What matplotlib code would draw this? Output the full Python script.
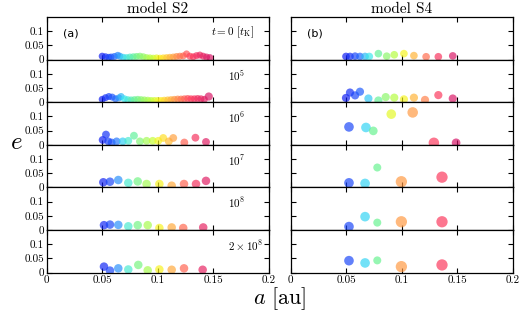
import matplotlib
matplotlib.use('Agg')
import numpy as np
import matplotlib.pyplot as plt
from matplotlib.colors import LinearSegmentedColormap
from matplotlib.ticker import FormatStrFormatter

plt.rcParams['font.family'] = ['cmr10', 'DejaVu Serif']
plt.rcParams['mathtext.fontset'] = 'cm'
plt.rcParams['axes.formatter.use_mathtext'] = True

# ---- data: semi-major axis a [au], eccentricity e, relative mass m, colour index c (initial a)
time_labels = [r'$t = 0\ [t_{\rm K}]$', r'$10^5$', r'$10^6$', r'$10^7$', r'$10^8$', r'$2 \times 10^8$']

s2_a = [
    [0.050, 0.053, 0.056, 0.058, 0.061, 0.064, 0.066, 0.069, 0.072, 0.075, 0.078, 0.081,
     0.084, 0.087, 0.090, 0.093, 0.096, 0.099, 0.102, 0.105, 0.108, 0.111, 0.114, 0.117,
     0.120, 0.123, 0.126, 0.129, 0.132, 0.135, 0.138, 0.141, 0.144, 0.147],
    [0.050, 0.053, 0.056, 0.059, 0.062, 0.065, 0.067, 0.070, 0.073, 0.076, 0.079, 0.082,
     0.085, 0.088, 0.091, 0.094, 0.097, 0.100, 0.103, 0.106, 0.109, 0.112, 0.115, 0.118,
     0.121, 0.124, 0.127, 0.130, 0.133, 0.136, 0.139, 0.142, 0.146],
    [0.0504, 0.0534, 0.0555, 0.0585, 0.063, 0.0685, 0.0735, 0.0786, 0.084, 0.090, 0.0955,
     0.1005, 0.105, 0.110, 0.114, 0.124, 0.134, 0.1435],
    [0.051, 0.057, 0.0645, 0.0735, 0.082, 0.090, 0.1015, 0.1126, 0.1237, 0.1345, 0.1435],
    [0.0516, 0.057, 0.0645, 0.0735, 0.082, 0.091, 0.1015, 0.1126, 0.123, 0.141],
    [0.0516, 0.057, 0.0645, 0.0735, 0.0825, 0.091, 0.1015, 0.1126, 0.1237, 0.1405],
]
s2_e = [
    [0.012, 0.010, 0.008, 0.009, 0.011, 0.015, 0.012, 0.008, 0.007, 0.009, 0.010, 0.011,
     0.012, 0.010, 0.007, 0.006, 0.005, 0.006, 0.005, 0.006, 0.007, 0.008, 0.009, 0.011,
     0.012, 0.013, 0.020, 0.012, 0.010, 0.014, 0.016, 0.012, 0.009, 0.007],
    [0.010, 0.016, 0.020, 0.018, 0.012, 0.015, 0.020, 0.012, 0.009, 0.008, 0.009, 0.010,
     0.009, 0.008, 0.007, 0.006, 0.006, 0.006, 0.006, 0.007, 0.008, 0.009, 0.010, 0.011,
     0.011, 0.012, 0.013, 0.012, 0.012, 0.013, 0.012, 0.010, 0.020],
    [0.017, 0.036, 0.012, 0.008, 0.012, 0.012, 0.014, 0.032, 0.012, 0.014, 0.014,
     0.014, 0.024, 0.012, 0.024, 0.008, 0.025, 0.010],
    [0.018, 0.020, 0.026, 0.016, 0.021, 0.012, 0.012, 0.006, 0.012, 0.012, 0.023],
    [0.017, 0.019, 0.018, 0.013, 0.017, 0.017, 0.007, 0.009, 0.007, 0.009],
    [0.021, 0.007, 0.015, 0.011, 0.027, 0.008, 0.011, 0.010, 0.015, 0.010],
]
s2_m = [
    [1.0] * 34,
    [1.0] * 32 + [1.6],
    [1.4] * 18,
    [1.8] * 11,
    [1.8] * 10,
    [1.8] * 10,
]

s4_a = [
    [0.0498, 0.0534, 0.058, 0.0624, 0.067, 0.0708, 0.079, 0.0865, 0.0933, 0.102, 0.111,
     0.122, 0.133, 0.146],
    [0.0498, 0.0534, 0.058, 0.0624, 0.070, 0.079, 0.0856, 0.0933, 0.102, 0.111, 0.121,
     0.133, 0.146],
    [0.0525, 0.0678, 0.0744, 0.0906, 0.1099, 0.129, 0.149],
    [0.0525, 0.067, 0.078, 0.0997, 0.1363],
    [0.0525, 0.067, 0.078, 0.0997, 0.1363],
    [0.0525, 0.067, 0.078, 0.0997, 0.1363],
]
s4_e = [
    [0.011, 0.011, 0.012, 0.011, 0.011, 0.011, 0.021, 0.012, 0.017, 0.021, 0.014,
     0.010, 0.010, 0.013],
    [0.015, 0.034, 0.024, 0.037, 0.013, 0.006, 0.018, 0.016, 0.010, 0.016, 0.008,
     0.025, 0.013],
    [0.063, 0.061, 0.049, 0.108, 0.114, 0.007, 0.007],
    [0.016, 0.014, 0.070, 0.020, 0.036],
    [0.012, 0.047, 0.026, 0.029, 0.029],
    [0.042, 0.034, 0.043, 0.021, 0.027],
]
s4_m = [
    [1.3] * 14,
    [1.6] * 13,
    [2.6, 2.6, 1.9, 2.6, 3.4, 3.4, 1.9],
    [2.6, 2.6, 1.5, 4.2, 4.2],
    [2.6, 2.6, 1.5, 4.2, 4.2],
    [2.6, 2.6, 1.5, 4.2, 4.2],
]
s4_c = [
    [0.050, 0.053, 0.057, 0.062, 0.067, 0.071, 0.079, 0.086, 0.093, 0.101, 0.111,
     0.122, 0.133, 0.146],
    [0.050, 0.053, 0.057, 0.060, 0.068, 0.079, 0.086, 0.093, 0.101, 0.111, 0.119,
     0.131, 0.146],
    [0.057, 0.069, 0.080, 0.099, 0.115, 0.131, 0.148],
    [0.057, 0.069, 0.080, 0.115, 0.131],
    [0.057, 0.069, 0.080, 0.115, 0.131],
    [0.057, 0.069, 0.080, 0.115, 0.131],
]

# colour map: blue -> cyan -> green -> yellow -> orange -> red -> crimson
cmap = LinearSegmentedColormap.from_list('disk', [
    (0.00, (0.05, 0.10, 0.95)),
    (0.12, (0.12, 0.40, 1.00)),
    (0.20, (0.20, 0.90, 0.95)),
    (0.30, (0.40, 0.95, 0.55)),
    (0.45, (0.75, 1.00, 0.20)),
    (0.52, (1.00, 0.95, 0.10)),
    (0.65, (1.00, 0.60, 0.25)),
    (0.80, (1.00, 0.22, 0.35)),
    (1.00, (0.82, 0.05, 0.40)),
])

fig = plt.figure(figsize=(5.2, 3.2), dpi=100)

W, H = 520.0, 320.0
top = 17.0
rowh = 42.6
lefts = [46.7, 290.7]
width = 222.0

models = [('model S2', s2_a, s2_e, s2_m, s2_a, '(a)'),
          ('model S4', s4_a, s4_e, s4_m, s4_c, '(b)')]

for j, (title, A, E, M, C, tag) in enumerate(models):
    for i in range(6):
        y0 = 1 - (top + rowh * (i + 1)) / H
        ax = fig.add_axes([lefts[j] / W, y0, width / W, rowh / H])
        d = 7.0 * np.array(M[i]) ** (1 / 3.)          # diameter in px
        s = (d * 0.72) ** 2
        cols = cmap((np.array(C[i]) - 0.05) / 0.1)
        ax.scatter(A[i], E[i], s=s, c=cols, alpha=0.68, linewidths=0, zorder=2)
        ax.set_xlim(0, 0.2)
        ax.set_ylim(0, 0.15)
        ax.set_xticks([0, 0.05, 0.1, 0.15, 0.2])
        ax.set_yticks([0, 0.05, 0.1])
        ax.xaxis.set_major_formatter(FormatStrFormatter('%g'))
        ax.yaxis.set_major_formatter(FormatStrFormatter('%g'))
        ax.tick_params(direction='in', top=True, right=True, length=3.8, width=0.8,
                       labelsize=8, pad=2)
        if j == 1:
            ax.tick_params(labelleft=False)
        if i < 5:
            ax.tick_params(labelbottom=False)
        for sp in ax.spines.values():
            sp.set_linewidth(0.9)
        if i == 0:
            ax.set_title(title, fontsize=11, pad=3)
            ax.text(0.073, 0.62, tag, transform=ax.transAxes, fontsize=8,
                    family='DejaVu Sans', va='center', ha='left')
        if j == 0:
            xt = 0.74 if i == 0 else 0.817
            ax.text(xt, 0.63, time_labels[i], transform=ax.transAxes, fontsize=8,
                    va='center', ha='left')

fig.text(0.032, 1 - 143 / H, r'$e$', fontsize=18, ha='center', va='center')
fig.text(280 / W, 1 - 299 / H, r'$a\ [{\rm au}]$', fontsize=16, ha='center', va='center')

fig.savefig('out.png', dpi=100)
